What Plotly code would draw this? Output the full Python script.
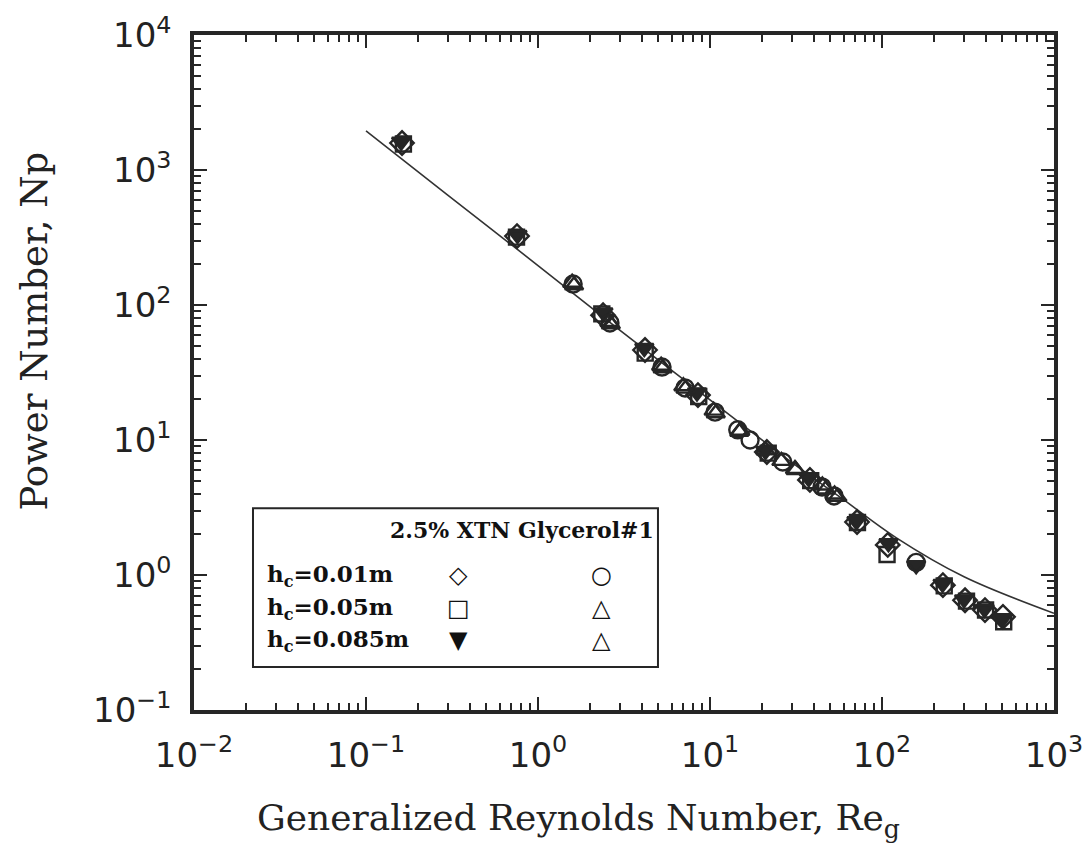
import plotly.graph_objects as go

# Correlation line
curve_re = [0.1, 0.3, 1, 3, 10, 30, 60, 120, 300, 1000]
curve_np = [1950, 650, 196, 65, 19.8, 6.8, 3.6, 1.9, 0.97, 0.52]

# Left-column symbols (diamond / square / filled triangle)
re_d001 = [0.162, 0.755, 2.39, 4.19, 8.51, 21.4, 38.1, 71.6, 108, 226, 304, 397, 505]
np_d001 = [1585, 324, 84, 46.4, 21.5, 8.15, 5.06, 2.47, 1.67, 0.84, 0.65, 0.55, 0.49]

re_s005 = [0.165, 0.75, 2.35, 4.2, 8.6, 21.8, 38.5, 72, 107, 230, 310, 400, 510]
np_s005 = [1560, 318, 86, 44, 21, 8.0, 5.0, 2.45, 1.42, 0.83, 0.64, 0.55, 0.45]

re_t0085 = [0.16, 0.76, 2.4, 4.15, 8.4, 21.0, 37.5, 71, 109, 158, 225, 300, 395, 500]
np_t0085 = [1620, 330, 88, 48, 22.5, 8.3, 5.2, 2.5, 1.72, 1.18, 0.86, 0.66, 0.56, 0.47]

# Right-column symbols (circle / open triangles)
re_c001 = [1.6, 2.62, 5.26, 7.16, 10.7, 14.5, 17.1, 26.5, 44.8, 52.6, 158]
np_c001 = [143, 73.6, 34.7, 24.3, 16.1, 11.9, 10.0, 6.87, 4.49, 3.85, 1.24]

re_u005 = [1.62, 2.6, 5.3, 7.2, 10.5, 14.8, 21.0, 31.2, 45, 53]
np_u005 = [140, 75, 34, 24, 16.5, 11.5, 8.4, 6.1, 4.6, 3.95]

re_u0085 = [1.58, 2.65, 5.2, 7.0, 10.8, 15.0, 26.0, 31.5, 47, 55]
np_u0085 = [146, 72, 35.5, 25, 15.8, 11.7, 7.0, 6.0, 4.3, 3.8]

x_tickvals = [0.01, 0.1, 1, 10, 100, 1000]
x_ticktext = ["10<sup>\u22122</sup>", "10<sup>\u22121</sup>", "10<sup>0</sup>",
              "10<sup>1</sup>", "10<sup>2</sup>", "10<sup>3</sup>"]
y_tickvals = [0.1, 1, 10, 100, 1000, 10000]
y_ticktext = ["10<sup>\u22121</sup>", "10<sup>0</sup>", "10<sup>1</sup>",
              "10<sup>2</sup>", "10<sup>3</sup>", "10<sup>4</sup>"]

x_title = "Generalized Reynolds Number, Re<sub>g</sub>"
y_title = "Power Number, Np"

legend_title = "2.5% XTN Glycerol#1"
legend_rows = ["h<sub>c</sub>=0.01m", "h<sub>c</sub>=0.05m", "h<sub>c</sub>=0.085m"]
legend_col1 = ["\u25C7", "\u25A1", "\u25BC"]
legend_col2 = ["\u25CB", "\u25B3", "\u25B3"]

INK = "#262626"
fig = go.Figure()

fig.add_trace(go.Scatter(x=curve_re, y=curve_np, mode="lines", line_shape="spline",
                         line=dict(color="#333333", width=1.6), hoverinfo="skip"))

def add_series(xs, ys, symbol, size=15):
    fig.add_trace(go.Scatter(
        x=xs, y=ys, mode="markers",
        marker=dict(symbol=symbol, size=size, color=INK,
                    line=dict(color=INK, width=2.4))))

add_series(re_d001, np_d001, "diamond-open", 18)
add_series(re_s005, np_s005, "square-open", 15)
add_series(re_t0085, np_t0085, "triangle-down", 16)
add_series(re_c001, np_c001, "circle-open", 17)
add_series(re_u005, np_u005, "triangle-up-open", 16)
add_series(re_u0085, np_u0085, "triangle-up-open", 16)

axis_common = dict(
    type="log", showgrid=False, zeroline=False, automargin=False,
    showline=True, linewidth=3.5, linecolor=INK, mirror="ticks",
    ticks="inside", ticklen=13, tickwidth=2, tickcolor=INK,
    minor=dict(ticks="inside", ticklen=7, tickwidth=1.5, tickcolor=INK,
               dtick="D1", showgrid=False),
    tickfont=dict(family="DejaVu Sans", size=34, color="#222"),
)

fig.update_xaxes(**axis_common, range=[-2, 3], tickvals=x_tickvals, ticktext=x_ticktext,
                 ticklabelstandoff=12)
fig.update_yaxes(**axis_common, range=[-1, 4], tickvals=y_tickvals, ticktext=y_ticktext,
                 ticklabelstandoff=12)

# Axis titles placed as annotations
fig.add_annotation(xref="paper", yref="paper", x=0.447, y=-0.163, xanchor="center",
                   yanchor="middle", text=x_title, showarrow=False,
                   font=dict(family="DejaVu Serif", size=36, color="#222"))
fig.add_annotation(xref="paper", yref="paper", x=-0.185, y=0.562, xanchor="center",
                   yanchor="middle", text=y_title, textangle=-90, showarrow=False,
                   font=dict(family="DejaVu Serif", size=37, color="#222"))

# Legend box with key glyphs drawn as text
fig.add_shape(type="rect", xref="paper", yref="paper",
              x0=0.0686, x1=0.5395, y0=0.0637, y1=0.299,
              line=dict(color=INK, width=2), fillcolor="white", layer="above")

fig.add_annotation(xref="paper", yref="paper", x=0.537, y=0.2667, xanchor="right",
                   yanchor="middle", text="<b>" + legend_title + "</b>", showarrow=False,
                   font=dict(family="DejaVu Serif", size=22, color="#111"))
row_y = [0.200, 0.151, 0.1037]
for label, s1, s2, yy in zip(legend_rows, legend_col1, legend_col2, row_y):
    fig.add_annotation(xref="paper", yref="paper", x=0.0826, y=yy, xanchor="left",
                       yanchor="middle", text="<b>" + label + "</b>", showarrow=False,
                       font=dict(family="DejaVu Serif", size=23, color="#111"))
    fig.add_annotation(xref="paper", yref="paper", x=0.308, y=yy, xanchor="center",
                       yanchor="middle", text=s1, showarrow=False,
                       font=dict(family="DejaVu Sans", size=24, color="#111"))
    fig.add_annotation(xref="paper", yref="paper", x=0.474, y=yy, xanchor="center",
                       yanchor="middle", text=s2, showarrow=False,
                       font=dict(family="DejaVu Sans", size=24, color="#111"))

fig.update_layout(
    width=1088, height=859,
    margin=dict(l=194, r=34, t=35, b=149),
    paper_bgcolor="white", plot_bgcolor="white",
    showlegend=False,
)

fig.write_html("out.html")
